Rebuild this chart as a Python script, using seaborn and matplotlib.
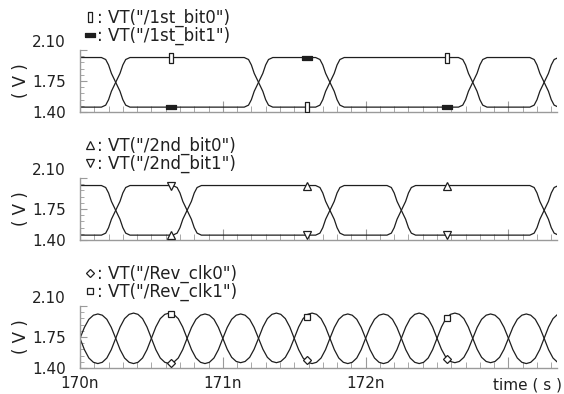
import matplotlib
matplotlib.use("Agg")
import matplotlib.pyplot as plt
from matplotlib.lines import Line2D
from matplotlib.ticker import MultipleLocator
import seaborn as sns

# time axis (ns)
x_lim = (170.0, 173.34)
x_ticks = [170, 171, 172, 173]
x_tick_labels = ["170n", "171n", "172n", ""]
y_ticks = [1.40, 1.75, 2.10]
y_tick_labels = ["1.40", "1.75", "2.10"]

v_high = 2.015
v_low = 1.455
v_mid = 1.735

# shape of one bit transition: offset from crossing (ns), fraction of swing
edge_dt = [-0.10, -0.07, -0.05, -0.03, 0.0, 0.03, 0.05, 0.07, 0.10]
edge_frac = [0.0, 0.04, 0.15, 0.32, 0.5, 0.68, 0.85, 0.96, 1.0]

# 1st bit pair: crossing times and logic level between them
bit1st_edges = [170.25, 171.25, 171.75, 172.75, 173.25]
bit1st_b0_levels = [0, 1, 0, 1, 0, 1]
bit1st_b1_levels = [1, 0, 1, 0, 1, 0]

# 2nd bit pair
bit2nd_edges = [170.25, 170.75, 171.75, 172.25, 173.25]
bit2nd_b0_levels = [1, 0, 1, 0, 1, 0]
bit2nd_b1_levels = [0, 1, 0, 1, 0, 1]

# recovered clock: start of each half cycle and its peak voltage
clk_half_starts = [170.0, 170.25, 170.5, 170.75, 171.0, 171.25, 171.5,
                   171.75, 172.0, 172.25, 172.5, 172.75, 173.0, 173.25]
clk1_peaks = [2.01, 1.45, 2.02, 1.45, 2.01, 1.46, 2.02,
              1.45, 2.01, 1.45, 2.02, 1.46, 2.01, 1.45]
clk0_peaks = [1.45, 2.02, 1.45, 2.01, 1.46, 2.02, 1.45,
              2.01, 1.45, 2.02, 1.46, 2.01, 1.45, 2.02]
# shape over one half cycle: offset (ns), fraction of peak
clk_dt = [0.0, 0.031, 0.062, 0.094, 0.125, 0.156, 0.188, 0.219]
clk_frac = [0.0, 0.45, 0.78, 0.95, 1.0, 0.95, 0.78, 0.45]

# marker positions
mark_t = [170.64, 171.59, 172.57]
m1_b0 = [2.015, 1.455, 2.015]
m1_b1 = [1.455, 2.015, 1.455]
m2_b0 = [1.455, 2.015, 2.015]
m2_b1 = [2.015, 1.455, 1.455]
m3_c0 = [1.455, 1.49, 1.50]
m3_c1 = [2.015, 1.98, 1.97]

legend_1 = [': VT("/1st_bit0")', ': VT("/1st_bit1")']
legend_2 = [': VT("/2nd_bit0")', ': VT("/2nd_bit1")']
legend_3 = [': VT("/Rev_clk0")', ': VT("/Rev_clk1")']


def digital_wave(edges, levels):
    volts = [v_high if lv else v_low for lv in levels]
    t, v = [169.8], [volts[0]]
    for e, a, b in zip(edges, volts[:-1], volts[1:]):
        for dt, f in zip(edge_dt, edge_frac):
            t.append(e + dt)
            v.append(a + (b - a) * f)
    t.append(173.6)
    v.append(volts[-1])
    return t, v


def clock_wave(peaks):
    t, v = [], []
    for s, p in zip(clk_half_starts, peaks):
        for dt, f in zip(clk_dt, clk_frac):
            t.append(s + dt)
            v.append(v_mid + (p - v_mid) * f)
    t.append(173.5)
    v.append(v_mid)
    return t, v


sns.set_style("white")
plt.rcParams["font.family"] = ["DejaVu Sans"]

line_c = "#1e1e1e"
axis_c = "#9a9a9a"
text_c = "#202020"

fig = plt.figure(figsize=(5.64, 3.94), dpi=100)
W, H = 564, 394
left, right = 80, 557
bottoms = [112, 240, 368]
panel_h = 62
axes = [fig.add_axes([left / W, (H - b) / H, (right - left) / W, panel_h / H])
        for b in bottoms]

rect_tall = [(-0.35, -1), (0.35, -1), (0.35, 1), (-0.35, 1), (-0.35, -1)]
rect_wide = [(-1, -0.35), (1, -0.35), (1, 0.35), (-1, 0.35), (-1, -0.35)]

panels = [
    (digital_wave(bit1st_edges, bit1st_b0_levels), digital_wave(bit1st_edges, bit1st_b1_levels),
     m1_b0, m1_b1, (rect_tall, "white", 7), (rect_wide, line_c, 7), legend_1),
    (digital_wave(bit2nd_edges, bit2nd_b0_levels), digital_wave(bit2nd_edges, bit2nd_b1_levels),
     m2_b0, m2_b1, ("^", "white", 6), ("v", "white", 6), legend_2),
    (clock_wave(clk0_peaks), clock_wave(clk1_peaks),
     m3_c0, m3_c1, ("D", "white", 4.5), ("s", "white", 5), legend_3),
]

for ax, (w0, w1, mv0, mv1, mk0, mk1, labels) in zip(axes, panels):
    for t, v in (w0, w1):
        sns.lineplot(x=t, y=v, ax=ax, color=line_c, lw=0.9, estimator=None, sort=False)
    handles = []
    for mv, (mk, fc, ms) in ((mv0, mk0), (mv1, mk1)):
        ax.plot(mark_t, mv, ls="none", marker=mk, ms=ms, mfc=fc, mec=line_c, mew=0.9, zorder=4)
        handles.append(Line2D([], [], ls="none", marker=mk, ms=ms, mfc=fc, mec=line_c, mew=0.9))
    ax.legend(handles, labels, loc="lower left", bbox_to_anchor=(0.0, 1.0), frameon=False,
              handlelength=0.6, handletextpad=0.1, borderpad=0.1, borderaxespad=0.2,
              labelspacing=0.0, fontsize=12, labelcolor=text_c)

    ax.set_xlim(*x_lim)
    ax.set_ylim(1.40, 2.10)
    ax.set_yticks(y_ticks)
    ax.set_yticklabels(y_tick_labels)
    ax.get_yticklabels()[-1].set_verticalalignment("bottom")
    ax.yaxis.set_minor_locator(MultipleLocator(0.07))
    ax.set_xticks(x_ticks)
    ax.xaxis.set_minor_locator(MultipleLocator(0.1))
    ax.tick_params(axis="both", which="both", direction="in", color=axis_c,
                   left=True, bottom=True, labelsize=11, labelcolor=text_c)
    ax.tick_params(axis="y", which="major", length=5, pad=10)
    ax.tick_params(axis="y", which="minor", length=3)
    ax.tick_params(axis="x", which="major", length=8, pad=6)
    ax.tick_params(axis="x", which="minor", length=4)
    ax.set_ylabel("( V )", fontsize=12, color=text_c, labelpad=2)
    for side in ("top", "right"):
        ax.spines[side].set_visible(False)
    for side in ("left", "bottom"):
        ax.spines[side].set_color(axis_c)
        ax.spines[side].set_linewidth(1.0)
    if ax is axes[-1]:
        ax.set_xticklabels(x_tick_labels)
        ax.text(1.01, -0.16, "time ( s )", transform=ax.transAxes, ha="right", va="top",
                fontsize=11, color=text_c)
    else:
        ax.set_xticklabels([])

fig.savefig("out.png", dpi=100)
